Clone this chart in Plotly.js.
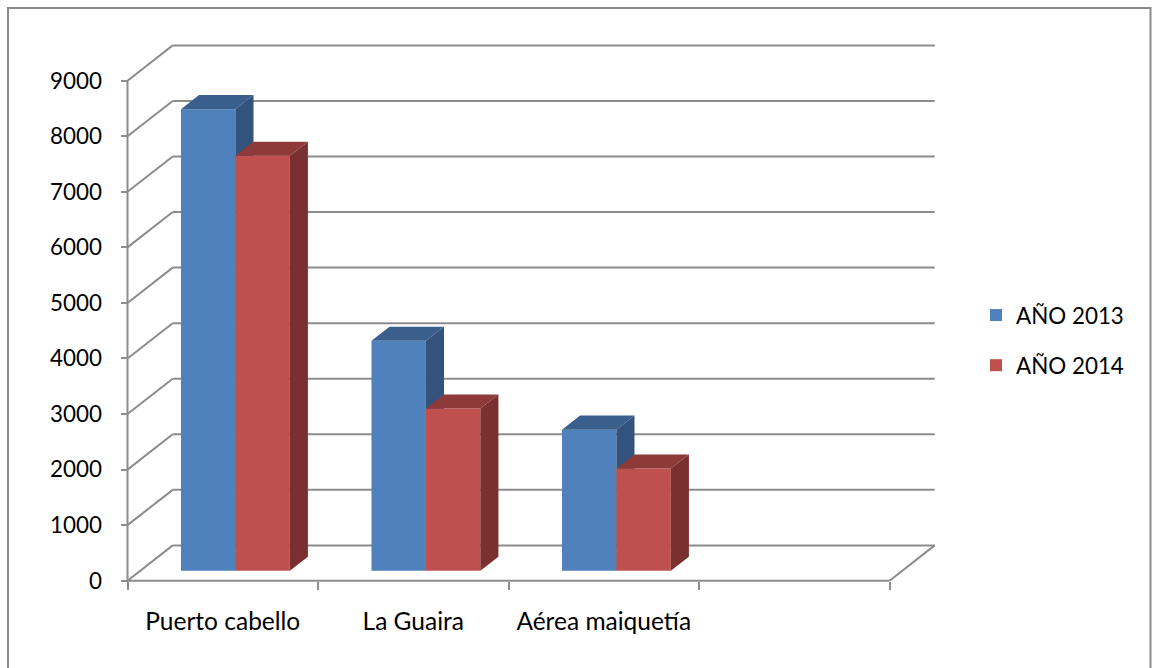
<!DOCTYPE html>
<html><head><meta charset="utf-8">
<script src="https://cdn.plot.ly/plotly-3.0.1.min.js"></script>
<style>html,body{margin:0;padding:0;background:#fff}#chart{width:1152px;height:668px}</style>
</head><body><div id="chart"></div>
<script>
// ---- data ----
const categories = ["Puerto cabello", "La Guaira", "Aérea maiquetía", ""];
const values2013 = [8310, 4140, 2540];
const values2014 = [7470, 2920, 1840];
const seriesNames = ["AÑO 2013", "AÑO 2014"];
const yTickValues = [0, 1000, 2000, 3000, 4000, 5000, 6000, 7000, 8000, 9000];

// ---- geometry / style ----
const WIDTH = 1152, HEIGHT = 668;
const L = 110, R = 950, T = 35, B = 600;
const PW = R - L, PH = B - T;
const SLOT_PX = 190.5, X0_PX = 127.5;
const UNIT_PX = 500 / 9000, Y0_PX = 580.7;
const DEPTH_X_PX = 45.2, DEPTH_Y_PX = 35.3;
const DX = DEPTH_X_PX / SLOT_PX, DY = DEPTH_Y_PX / UNIT_PX;
const F0 = 0.28, F1 = 0.68;
const BAR_W = 1 / 3.5;
const FONT = "Lato, 'Open Sans', sans-serif";
const GRID = "#8c8c8c";
const xRange = [-0.5 - (X0_PX - L) / SLOT_PX, -0.5 + (R - X0_PX) / SLOT_PX];
const yRange = [-(B - Y0_PX) / UNIT_PX, (Y0_PX - T) / UNIT_PX];
const px2paperX = p => (p - L) / PW;
const px2paperY = p => (B - p) / PH;

const nSlots = categories.length;
const xMin = -0.5, xMax = nSlots - 0.5;
const yMax = yTickValues[yTickValues.length - 1];

// frame lines
const fx = [], fy = [];
function seg(x0, y0, x1, y1) { fx.push(x0, x1, null); fy.push(y0, y1, null); }
yTickValues.forEach(v => {
  seg(xMin + DX, v + DY, xMax + DX, v + DY);
  seg(xMin, v, xMin + DX, v + DY);
});
seg(xMin, 0, xMin, yMax);
seg(xMin, 0, xMax, 0);
seg(xMax, 0, xMax + DX, DY);

const traces = [{
  type: "scatter", mode: "lines", x: fx, y: fy, xaxis: "x", yaxis: "y",
  line: {color: GRID, width: 2}, hoverinfo: "skip", showlegend: false
}];

function addSeries(values, side, name, colors, xa, ya, group) {
  const xs = values.map((v, i) => i + side * BAR_W / 2 + F0 * DX);
  const base = F0 * DY;
  traces.push({
    type: "bar", x: xs, y: values, base: values.map(() => base), width: values.map(() => BAR_W),
    name: name, legendgroup: group, xaxis: xa, yaxis: ya,
    marker: {color: colors[0], line: {width: 0}}, hoverinfo: "skip"
  });
  const dd = (F1 - F0) * DX, dh = (F1 - F0) * DY;
  const tx = [], ty = [], sx = [], sy = [];
  values.forEach((v, i) => {
    const xl = xs[i] - BAR_W / 2, xr = xs[i] + BAR_W / 2, top = base + v;
    tx.push(xl, xl + dd, xr + dd, xr, null);
    ty.push(top, top + dh, top + dh, top, null);
    sx.push(xr, xr + dd, xr + dd, xr, null);
    sy.push(base, base + dh, top + dh, top, null);
  });
  traces.push({type: "scatter", mode: "lines", x: sx, y: sy, fill: "toself", fillcolor: colors[2],
    line: {width: 0, color: colors[2]}, xaxis: xa, yaxis: ya, hoverinfo: "skip", showlegend: false});
  traces.push({type: "scatter", mode: "lines", x: tx, y: ty, fill: "toself", fillcolor: colors[1],
    line: {width: 0, color: colors[1]}, xaxis: xa, yaxis: ya, hoverinfo: "skip", showlegend: false});
}
addSeries(values2013, -1, seriesNames[0], ["#4F81BD", "#3B5F8C", "#33527C"], "x2", "y2", "a");
addSeries(values2014, 1, seriesNames[1], ["#C0504D", "#8E3A38", "#7A302E"], "x3", "y3", "b");

const hiddenX = {range: xRange, visible: false, overlaying: "x", fixedrange: true};
const hiddenY = {range: yRange, visible: false, overlaying: "y", fixedrange: true};

const layout = {
  width: WIDTH, height: HEIGHT,
  margin: {l: L, r: WIDTH - R, t: T, b: HEIGHT - B, pad: 0},
  paper_bgcolor: "#fff", plot_bgcolor: "rgba(0,0,0,0)",
  font: {family: FONT, size: 22.4, color: "#000"},
  showlegend: true,
  legend: {x: px2paperX(976), y: px2paperY(294), xanchor: "left", yanchor: "top",
    traceorder: "grouped", tracegroupgap: 18, font: {family: FONT, size: 22.4, color: "#000"},
    bgcolor: "rgba(0,0,0,0)"},
  xaxis: {range: xRange, anchor: "free", position: px2paperY(Y0_PX), showgrid: false, zeroline: false,
    showline: false, tickmode: "array", tickvals: Array.from({length: nSlots + 1}, (_, k) => k - 0.5),
    showticklabels: false, ticks: "outside", ticklen: 8, tickwidth: 2, tickcolor: GRID, fixedrange: true},
  yaxis: {range: yRange, anchor: "free", position: px2paperX(X0_PX), showgrid: false, zeroline: false,
    showline: false, tickmode: "array", tickvals: yTickValues, ticktext: yTickValues.map(String),
    ticks: "outside", ticklen: 7, tickwidth: 2, tickcolor: GRID, ticklabelstandoff: 14,
    tickfont: {family: FONT, size: 22.4, color: "#000"}, fixedrange: true},
  xaxis2: Object.assign({}, hiddenX, {visible: true, anchor: "free", position: px2paperY(Y0_PX),
    showgrid: false, zeroline: false, showline: false, ticks: "", tickmode: "array",
    tickvals: categories.map((c, i) => i), ticktext: categories, ticklabelstandoff: 24,
    tickfont: {family: FONT, size: 24.5, color: "#000"}}),
  yaxis2: hiddenY,
  xaxis3: hiddenX,
  yaxis3: hiddenY,
  shapes: [{type: "rect", xref: "paper", yref: "paper",
    x0: px2paperX(8), x1: px2paperX(1150.5), y0: px2paperY(690), y1: px2paperY(8),
    line: {color: "#8a8a8a", width: 2}, fillcolor: "rgba(0,0,0,0)"}]
};

Plotly.newPlot("chart", traces, layout, {staticPlot: true, displayModeBar: false});
</script></body></html>
